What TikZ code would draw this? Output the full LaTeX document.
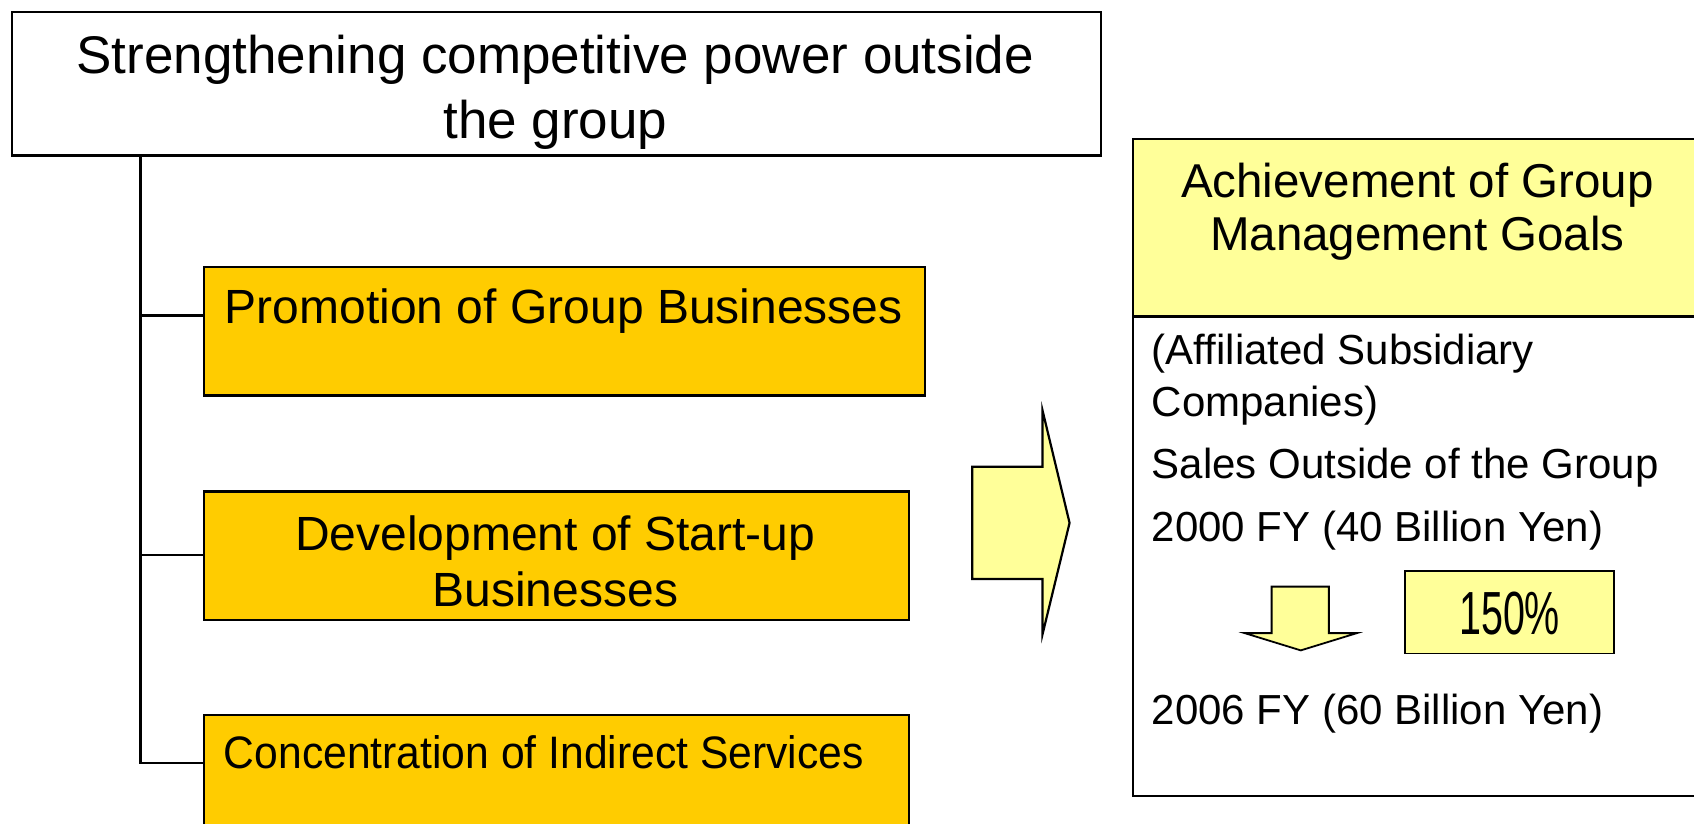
\documentclass[tikz,border=0pt]{standalone}
\usepackage{fontspec}
\setmainfont{Liberation Sans}
\definecolor{gold}{HTML}{FFCC00}
\definecolor{paleyellow}{HTML}{FFFF99}
\begin{document}
\begin{tikzpicture}[x=1.08036pt,y=-1.08036pt,
  box/.style={draw=black,line width=2.2pt,inner sep=0pt,anchor=north west},
  goldbox/.style={box,fill=gold},
  big/.style={font=\fontsize{53}{65}\selectfont,align=center,inner sep=0pt},
  mid/.style={font=\fontsize{48}{56}\selectfont,align=center,inner sep=0pt},
  body/.style={font=\fontsize{42}{52}\selectfont,align=left,inner sep=0pt,anchor=west},
  link/.style={draw=black,line width=2.2pt}]
\useasboundingbox (0,0) rectangle (1568,761.8);
\fill[white] (0,0) rectangle (1568,761.8);
% top box
\node[box,minimum width=1008*1.08036pt,minimum height=133*1.08036pt] (top) at (10,10) {};
\node[big] (toptext) at (514,85) {Strengthening competitive power outside\\the group};
% gold boxes
\node[goldbox,minimum width=667*1.08036pt,minimum height=119*1.08036pt] (b1) at (188,246) {};
\node[goldbox,minimum width=652*1.08036pt,minimum height=119*1.08036pt] (b2) at (188,454) {};
\node[goldbox,minimum width=652*1.08036pt,minimum height=200*1.08036pt] (b3) at (188,661) {};
\node[mid,anchor=west] (t1) at (208,288) {Promotion of Group Businesses};
\node[mid] (t2) at (514,520) {Development of Start-up\\Businesses};
\node[inner sep=0pt,anchor=west,font=\fontsize{45.5}{54}\selectfont] (t3) at (207,696) {\scalebox{0.937}[1]{Concentration of Indirect Services}};
% tree connectors
\coordinate (trunk) at (130,143);
\coordinate (j1) at (130,292);
\coordinate (j2) at (130,514);
\coordinate (j3) at (130,706);
\draw[link] (trunk) -- (j3) -- (j3 -| b3.west);
\draw[link] (j1) -- (j1 -| b1.west);
\draw[link] (j2) -- (j2 -| b2.west);
% big arrow
\draw[line width=2.2pt,fill=paleyellow,line join=miter]
  (900,432) -- (965,432) -- (965,380) -- (990,484) -- (965,587) -- (965,536) -- (900,536) -- cycle;
% right box
\node[box,fill=paleyellow,minimum width=700*1.08036pt,minimum height=164*1.08036pt] (head) at (1048,128) {};
\node[box,minimum width=700*1.08036pt,minimum height=444*1.08036pt] (panel) at (1048,292) {};
\node[mid,font=\fontsize{47.5}{53}\selectfont] (headtext) at (1312,196) {Achievement of Group\\Management Goals};
\node[body] (l1) at (1066,327) {(Affiliated Subsidiary};
\node[body] (l2) at (1066,375) {Companies)};
\node[body] (l3) at (1066,433) {Sales Outside of the Group};
\node[body] (l4) at (1066,491) {2000 FY (40 Billion Yen)};
\node[body] (l5) at (1066,661) {2006 FY (60 Billion Yen)};
% small arrow
\draw[line width=1.8pt,fill=paleyellow,line join=miter]
  (1177,543) -- (1230,543) -- (1230,586) -- (1256,586) -- (1204,602) -- (1152,586) -- (1177,586) -- cycle;
% 150% box
\node[box,line width=1.8pt,fill=paleyellow,minimum width=193*1.08036pt,minimum height=76*1.08036pt] (pct) at (1300,528) {};
\node[inner sep=0pt,font=\fontsize{58}{66}\selectfont] (pcttext) at ([yshift=-1pt]pct.center) {\scalebox{0.68}[1.05]{150\%}};
\end{tikzpicture}
\end{document}
